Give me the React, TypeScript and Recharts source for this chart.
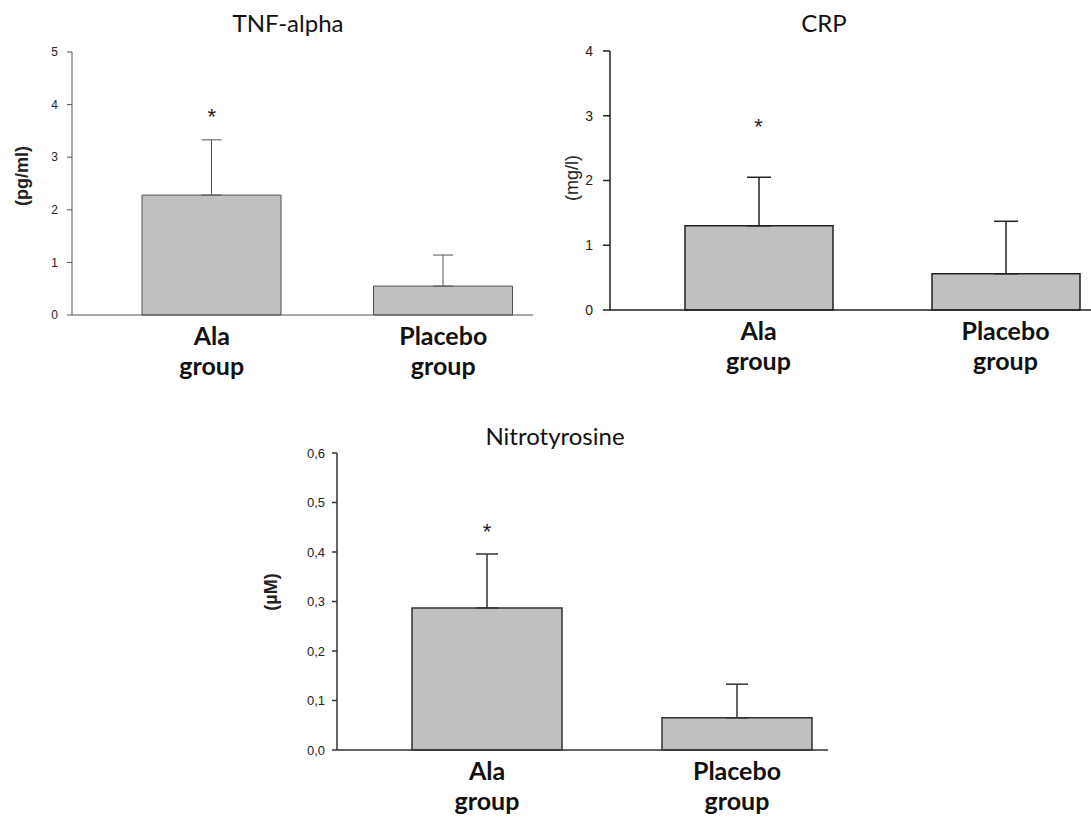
import React from "react";
import { Bar, BarChart, ErrorBar, ReferenceDot, XAxis, YAxis } from "recharts";

const groups = ["Ala group", "Placebo group"];

const tnfMeans = [2.28, 0.55];
const tnfSd = [1.05, 0.59];
const tnfTicks = [0, 1, 2, 3, 4, 5];
const tnfStar = 3.86;

const crpMeans = [1.3, 0.56];
const crpSd = [0.75, 0.81];
const crpTicks = [0, 1, 2, 3, 4];
const crpStar = 2.9;

const nitroMeans = [0.287, 0.065];
const nitroSd = [0.109, 0.068];
const nitroTicks = [0, 0.1, 0.2, 0.3, 0.4, 0.5, 0.6];
const nitroStar = 0.45;

const build = (means: number[], sd: number[]) =>
  groups.map((group, i) => ({ group, mean: means[i], err: [0, sd[i]] }));

const CategoryTick = ({ x, y, payload }: any) => {
  const [first, second] = String(payload.value).split(" ");
  const style = { fontFamily: "Lato", fontWeight: 700, fontSize: 25, fill: "#111" };
  return (
    <g>
      <text x={x} y={y + 30} textAnchor="middle" {...style}>
        {first}
      </text>
      <text x={x} y={y + 60} textAnchor="middle" {...style}>
        {second}
      </text>
    </g>
  );
};

const starLabel = ({ viewBox }: any) => (
  <text
    x={viewBox.x}
    y={viewBox.y + 12}
    textAnchor="middle"
    fontFamily="Liberation Sans"
    fontSize={22}
    fill="#222"
  >
    *
  </text>
);

interface PanelProps {
  title: string;
  unit: string;
  unitBold: boolean;
  data: { group: string; mean: number; err: number[] }[];
  ticks: number[];
  star: number;
  fmt?: (v: number) => string;
  box: { left: number; top: number; width: number; height: number };
  margin: { top: number; right: number; bottom: number; left: number };
  yWidth: number;
  xHeight: number;
  pad: { left: number; right: number };
  barSize: number;
  stroke: string;
  strokeWidth: number;
  tickFont: number;
  tickSize: number;
  tickMargin: number;
  capWidth: number;
  titlePos: { x: number; y: number };
  unitPos: { x: number; y: number };
}

const Panel = (p: PanelProps) => (
  <div style={{ position: "absolute", left: p.box.left, top: p.box.top }}>
    <div
      style={{
        position: "absolute",
        left: p.titlePos.x - 100,
        top: p.titlePos.y - 21,
        width: 200,
        textAlign: "center",
        fontFamily: "Lato",
        fontSize: 24,
        lineHeight: "24px",
        color: "#111",
      }}
    >
      {p.title}
    </div>
    <BarChart width={p.box.width} height={p.box.height} data={p.data} margin={p.margin} barCategoryGap={0}>
      <XAxis
        dataKey="group"
        height={p.xHeight}
        padding={p.pad}
        tickLine={false}
        tickSize={0}
        tickMargin={0}
        axisLine={{ stroke: p.stroke, strokeWidth: p.strokeWidth }}
        tick={<CategoryTick />}
        interval={0}
      />
      <YAxis
        type="number"
        domain={[p.ticks[0], p.ticks[p.ticks.length - 1]]}
        ticks={p.ticks}
        width={p.yWidth}
        tickFormatter={p.fmt}
        tickSize={p.tickSize}
        tickMargin={p.tickMargin}
        axisLine={{ stroke: p.stroke, strokeWidth: p.strokeWidth }}
        tickLine={{ stroke: p.stroke, strokeWidth: p.strokeWidth }}
        tick={{ fontFamily: "Liberation Sans", fontSize: p.tickFont, fill: "#222" }}
        label={{
          content: () => (
            <text
              x={p.unitPos.x}
              y={p.unitPos.y}
              transform={`rotate(-90 ${p.unitPos.x} ${p.unitPos.y})`}
              textAnchor="middle"
              dominantBaseline="central"
              fontFamily="Liberation Sans"
              fontWeight={p.unitBold ? 700 : 400}
              fontSize={18}
              fill="#222"
            >
              {p.unit}
            </text>
          ),
        }}
      />
      <Bar
        dataKey="mean"
        fill="#c0c0c0"
        stroke={p.stroke}
        strokeWidth={p.strokeWidth}
        barSize={p.barSize}
        isAnimationActive={false}
      >
        <ErrorBar
          dataKey="err"
          direction="y"
          width={p.capWidth}
          stroke={p.stroke}
          strokeWidth={p.strokeWidth}
          isAnimationActive={false}
        />
      </Bar>
      <ReferenceDot x={groups[0]} y={p.star} r={0} fill="none" stroke="none" label={starLabel} />
    </BarChart>
  </div>
);

export default function App() {
  return (
    <div
      style={{
        position: "absolute",
        left: 0,
        top: 0,
        width: 1091,
        height: 817,
        background: "#fff",
        overflow: "hidden",
      }}
    >
      <Panel
        title="TNF-alpha"
        unit="(pg/ml)"
        unitBold
        data={build(tnfMeans, tnfSd)}
        ticks={tnfTicks}
        star={tnfStar}
        box={{ left: 0, top: 0, width: 560, height: 400 }}
        margin={{ top: 52, right: 27, bottom: 15, left: 22 }}
        yWidth={50}
        xHeight={70}
        pad={{ left: 24, right: -26 }}
        barSize={139}
        stroke="#555"
        strokeWidth={1}
        tickFont={12}
        tickSize={5}
        tickMargin={9}
        capWidth={10}
        titlePos={{ x: 288, y: 32 }}
        unitPos={{ x: 22, y: 176 }}
      />
      <Panel
        title="CRP"
        unit="(mg/l)"
        unitBold={false}
        data={build(crpMeans, crpSd)}
        ticks={crpTicks}
        star={crpStar}
        box={{ left: 540, top: 0, width: 551, height: 400 }}
        margin={{ top: 51, right: 0, bottom: 20, left: 20 }}
        yWidth={50}
        xHeight={70}
        pad={{ left: 25, right: -38 }}
        barSize={148}
        stroke="#222"
        strokeWidth={1.5}
        tickFont={14}
        tickSize={7}
        tickMargin={10}
        capWidth={12}
        titlePos={{ x: 284, y: 32 }}
        unitPos={{ x: 32, y: 178 }}
      />
      <Panel
        title="Nitrotyrosine"
        unit="(µM)"
        unitBold
        data={build(nitroMeans, nitroSd)}
        ticks={nitroTicks}
        star={nitroStar}
        fmt={(v: number) => v.toFixed(1).replace(".", ",")}
        box={{ left: 250, top: 400, width: 620, height: 417 }}
        margin={{ top: 53, right: 42, bottom: 0, left: 32 }}
        yWidth={55}
        xHeight={67}
        pad={{ left: 25, right: -34 }}
        barSize={150}
        stroke="#333"
        strokeWidth={1.5}
        tickFont={13}
        tickSize={5}
        tickMargin={7}
        capWidth={11}
        titlePos={{ x: 305, y: 45 }}
        unitPos={{ x: 21, y: 192 }}
      />
    </div>
  );
}
